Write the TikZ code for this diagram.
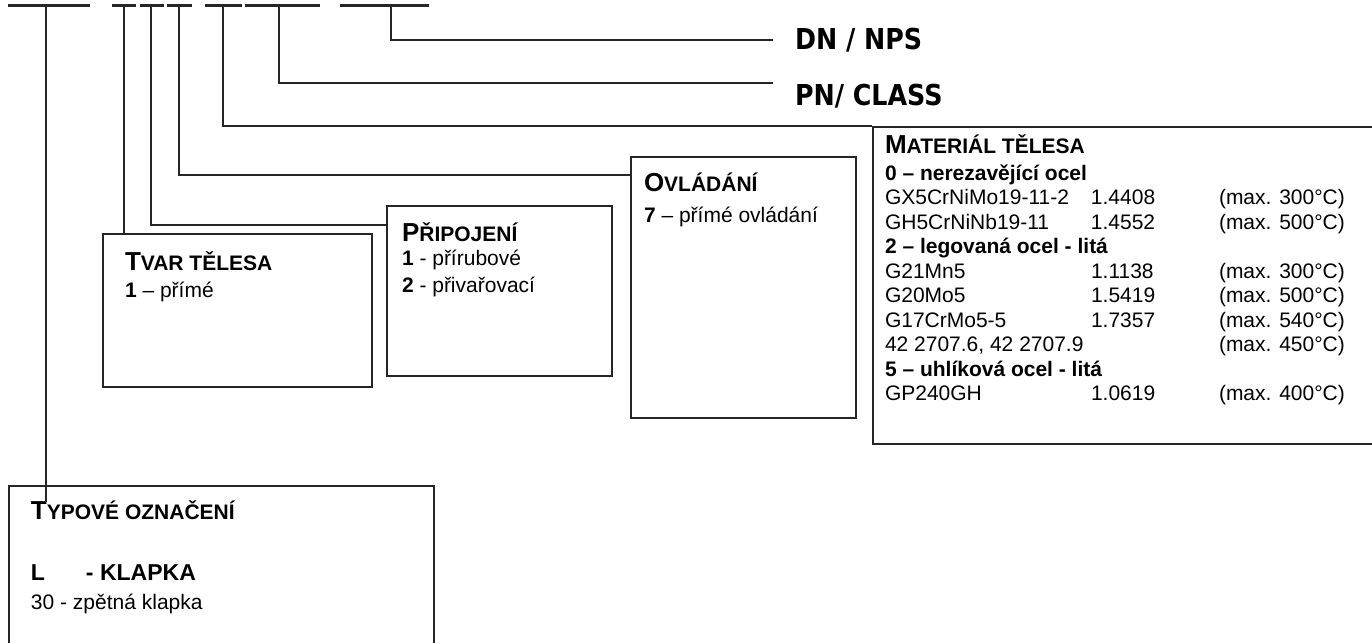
\documentclass[tikz,border=0pt]{standalone}
\usepackage{fontspec}
\setmainfont{Liberation Sans}
\newfontfamily\tagfont{DejaVu Sans}[FakeStretch=0.88]
\newcommand{\heading}[2]{{\bfseries\fontsize{13}{13}\selectfont #1\fontsize{10.5}{12.25}\selectfont #2}}

\begin{document}
\begin{tikzpicture}[x=0.5pt, y=-0.5pt, line width=1pt, draw=black!85,
    box/.style = {draw, rectangle, anchor=north west, inner sep=0pt},
    txt/.style = {anchor=base west, inner sep=0pt, font=\fontsize{10.5}{12.25}\selectfont},
    tag/.style = {anchor=base west, inner sep=0pt, font=\tagfont\bfseries\fontsize{14.4}{16}\selectfont},
    bar/.style = {line width=1.5pt}]
\useasboundingbox (0,0) rectangle (1372,643);

\foreach \a/\b in {8/90, 112/136, 140/164, 167/192, 205/242, 245/320, 340/429}
    \draw[bar] (\a,5) -- (\b,5);

\coordinate (s1) at (46,5);
\coordinate (s2) at (124,5);
\coordinate (s3) at (151,5);
\coordinate (s4) at (179,5);
\coordinate (s5) at (223,5);
\coordinate (s6) at (279,5);
\coordinate (s7) at (391,5);
\coordinate (t1) at (46,502);

\node[box, minimum width=212.5pt, minimum height=107.5pt] (typ) at (8,485) {};
\node[box, minimum width=134.5pt, minimum height=76.5pt] (tvar) at (102,233) {};
\node[box, minimum width=112.5pt, minimum height=85pt] (pripoj) at (386,205) {};
\node[box, minimum width=112.5pt, minimum height=130.5pt] (ovl) at (630,156) {};
\node[box, minimum width=264pt, minimum height=158.5pt] (mat) at (872,126) {};

\node[tag] (dn) at (794,49) {DN / NPS};
\node[tag] (pn) at (794,105) {PN/ CLASS};

\node[txt] (typtxt) at (30,519) {\begin{tabular}[t]{@{}l@{}}
    \heading{T}{YPOVÉ OZNAČENÍ}\\[18.25pt]
    {\bfseries\fontsize{11.5}{12.25}\selectfont\makebox[27.5pt][l]{L}- KLAPKA}\\[2.25pt]
    30 - zpětná klapka
  \end{tabular}};
\node[txt] (tvartxt) at (124,270) {\begin{tabular}[t]{@{}l@{}}
    \heading{T}{VAR TĚLESA}\\[1.25pt]
    {\bfseries 1} – přímé
  \end{tabular}};
\node[txt] (pripojtxt) at (401,241) {\begin{tabular}[t]{@{}l@{}}
    \heading{P}{ŘIPOJENÍ}\\
    {\bfseries 1} - přírubové\\[1pt]
    {\bfseries 2} - přivařovací
  \end{tabular}};
\node[txt] (ovltxt) at (643,191) {\begin{tabular}[t]{@{}l@{}}
    \heading{O}{VLÁDÁNÍ}\\[3.25pt]
    {\bfseries 7} – přímé ovládání
  \end{tabular}};
\node[txt] (mattxt) at (884,153) {\begin{tabular}[t]{@{}p{103pt}@{}p{64pt}@{}l@{}}
    \multicolumn{3}{@{}l@{}}{\heading{M}{ATERIÁL TĚLESA}}\\[1.25pt]
    \multicolumn{3}{@{}l@{}}{\bfseries 0 – nerezavějící ocel}\\
    GX5CrNiMo19-11-2 & 1.4408 & (max. 300°C)\\
    GH5CrNiNb19-11 & 1.4552 & (max. 500°C)\\
    \multicolumn{3}{@{}l@{}}{\bfseries 2 – legovaná ocel - litá}\\
    G21Mn5 & 1.1138 & (max. 300°C)\\
    G20Mo5 & 1.5419 & (max. 500°C)\\
    G17CrMo5-5 & 1.7357 & (max. 540°C)\\
    \multicolumn{2}{@{}l@{}}{42 2707.6, 42 2707.9} & (max. 450°C)\\
    \multicolumn{3}{@{}l@{}}{\bfseries 5 – uhlíková ocel - litá}\\
    GP240GH & 1.0619 & (max. 400°C)
  \end{tabular}};

\draw (s1) -- (t1);
\draw (s2) -- (s2 |- tvar.north);
\draw (s3) |- ([yshift=-10pt]pripoj.north west);
\draw (s4) |- ([yshift=-9.5pt]ovl.north west);
\draw (s5) |- (mat.north west);
\draw (s6) |- ([xshift=-10.5pt]pn.north west);
\draw (s7) |- ([xshift=-10.5pt]dn.west);

\end{tikzpicture}
\end{document}
